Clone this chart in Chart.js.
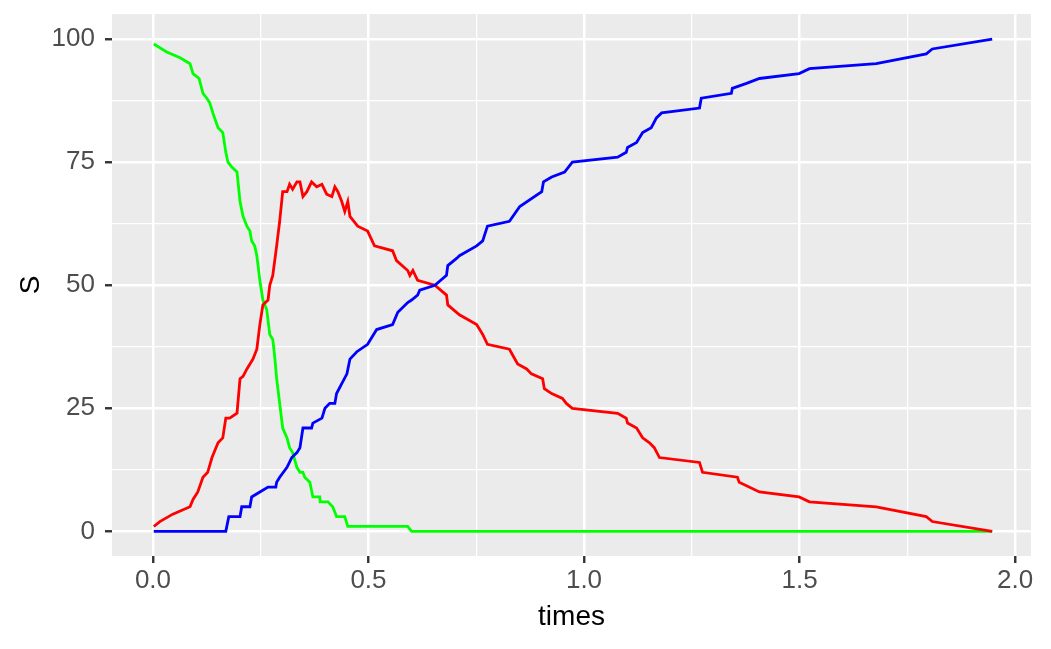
<!DOCTYPE html>
<html>
<head>
<meta charset="utf-8">
<script src="https://cdn.jsdelivr.net/npm/chart.js@4/dist/chart.umd.min.js"></script>
<style>
  html, body { margin: 0; padding: 0; background: #fff; }
  #wrap { width: 1051px; height: 649px; }
</style>
</head>
<body>
<div id="wrap"><canvas id="mycanvas"></canvas></div>
<script>
// S (susceptible) - green
var sTimes  = [0.002, 0.032, 0.063, 0.086, 0.093, 0.107, 0.116, 0.125, 0.132, 0.139, 0.151, 0.162, 0.169, 0.174, 0.183, 0.195,
               0.202, 0.209, 0.218, 0.225, 0.229, 0.236, 0.241, 0.248, 0.255, 0.264, 0.271, 0.278, 0.283, 0.287,
               0.294, 0.301, 0.311, 0.317, 0.324, 0.334, 0.341, 0.348, 0.352, 0.364, 0.371, 0.387, 0.388, 0.406,
               0.417, 0.426, 0.445, 0.452, 0.591, 0.600, 1.947];
var sValues = [99, 97.4, 96.2, 95, 93, 92, 89, 88, 87, 85, 82, 81, 77, 75, 74, 73,
               67, 64, 62, 61, 59, 58, 56, 51, 47, 45, 40, 39, 35, 31,
               26, 21, 19, 17, 16, 13, 12, 12, 11, 10, 7, 7, 6, 6,
               5, 3, 3, 1, 1, 0, 0];

// I (infected) - red
var iTimes  = [0.002, 0.016, 0.046, 0.086, 0.093, 0.104, 0.116, 0.127, 0.137, 0.151, 0.162, 0.169, 0.178, 0.195,
               0.202, 0.209, 0.218, 0.225, 0.232, 0.241, 0.248, 0.255, 0.267, 0.271, 0.278, 0.287, 0.294, 0.301,
               0.311, 0.317, 0.324, 0.334, 0.341, 0.348, 0.357, 0.368, 0.380, 0.392, 0.403, 0.415, 0.422, 0.429,
               0.438, 0.445, 0.452, 0.457, 0.475, 0.498, 0.514, 0.556, 0.565, 0.591, 0.596, 0.603, 0.614, 0.654,
               0.681, 0.684, 0.711, 0.751, 0.765, 0.776, 0.827, 0.846, 0.867, 0.878, 0.904, 0.908, 0.925, 0.950,
               0.959, 0.973, 1.078, 1.098, 1.101, 1.122, 1.136, 1.152, 1.163, 1.175, 1.268, 1.275, 1.356, 1.360,
               1.407, 1.499, 1.523, 1.678, 1.794, 1.808, 1.947];
var iValues = [1, 2, 3.5, 5, 6.5, 8, 11, 12, 15, 18, 19, 23, 23, 24,
               31, 31.5, 33, 34, 35, 37, 42, 46, 47, 50, 52, 58, 63, 69,
               69, 70.5, 69.5, 71, 71, 68, 69, 71, 70, 70.5, 68.5, 68, 70, 69,
               67, 65, 67, 64, 62, 61, 58, 57, 55, 53, 52, 53, 51, 50,
               48, 46, 44, 42, 40, 38, 37, 34, 33, 32, 31, 29, 28, 27,
               26, 25, 24, 23, 22, 21, 19, 18, 17, 15, 14, 12, 11, 10,
               8, 7, 6, 5, 3, 2, 0];

// R (recovered) - blue
var rTimes  = [0.002, 0.169, 0.176, 0.202, 0.206, 0.225, 0.229, 0.248, 0.267, 0.285, 0.287, 0.294, 0.311, 0.322,
               0.334, 0.341, 0.348, 0.368, 0.371, 0.392, 0.399, 0.410, 0.422, 0.426, 0.438, 0.450, 0.457, 0.473,
               0.498, 0.519, 0.556, 0.568, 0.591, 0.600, 0.614, 0.619, 0.654, 0.681, 0.684, 0.705, 0.711, 0.751,
               0.765, 0.776, 0.827, 0.851, 0.902, 0.906, 0.925, 0.955, 0.973, 1.078, 1.098, 1.101, 1.122, 1.136,
               1.156, 1.168, 1.180, 1.268, 1.272, 1.342, 1.344, 1.377, 1.407, 1.499, 1.523, 1.678, 1.794, 1.808,
               1.947];
var rValues = [0, 0, 3, 3, 5, 5, 7, 8, 9, 9, 10, 11, 13, 15,
               16, 17, 21, 21, 22, 23, 25, 26, 26, 28, 30, 32, 35, 36.5,
               38, 41, 42, 44.5, 46.5, 47, 48, 49, 50, 52, 54, 55.5, 56, 58,
               59, 62, 63, 66, 69, 71, 72, 73, 75, 76, 77, 78, 79, 81,
               82, 84, 85, 86, 88, 89, 90, 91, 92, 93, 94, 95, 97, 98,
               100];

var xMajorTicks = [0, 0.5, 1, 1.5, 2];
var xMinorTicks = [0.25, 0.75, 1.25, 1.75];
var yMajorTicks = [0, 25, 50, 75, 100];
var yMinorTicks = [12.5, 37.5, 62.5, 87.5];

function toPoints(xs, ys) {
  var pts = [];
  for (var i in xs) {
    pts.push({x: xs[i], y: ys[i]});
  }
  return pts;
}

function setTicks(major, minor) {
  return function(scale) {
    scale.ticks = major.concat(minor).sort(function(a, b) { return a - b; })
      .map(function(v) { return {value: v}; });
  };
}

var panelBg = {
  id: 'panelBg',
  beforeDraw: function(chart) {
    var a = chart.chartArea;
    var c = chart.ctx;
    c.save();
    c.fillStyle = '#EBEBEB';
    c.fillRect(a.left, a.top, a.right - a.left, a.bottom - a.top);
    c.restore();
  }
};

var font = 'Liberation Sans, Arial, Helvetica, sans-serif';

var chartdata = {
  datasets: [
    { label: 'R', data: toPoints(rTimes, rValues), borderColor: '#0000FF' },
    { label: 'I', data: toPoints(iTimes, iValues), borderColor: '#FF0000' },
    { label: 'S', data: toPoints(sTimes, sValues), borderColor: '#00FF00' }
  ]
};
chartdata.datasets.forEach(function(d) {
  d.borderWidth = 2.8;
  d.pointRadius = 0;
  d.tension = 0;
  d.fill = false;
});

var ctx = document.getElementById('mycanvas');
var chart = new Chart(ctx, {
  type: 'line',
  data: chartdata,
  plugins: [panelBg],
  options: {
    responsive: true,
    maintainAspectRatio: false,
    devicePixelRatio: 1,
    animation: false,
    layout: { padding: { top: 14, right: 20, left: 0, bottom: 0 } },
    plugins: { legend: { display: false }, tooltip: { enabled: false } },
    scales: {
      x: {
        type: 'linear',
        min: -0.095,
        max: 2.037,
        afterBuildTicks: setTicks(xMajorTicks, xMinorTicks),
        afterFit: function(scale) {
          scale.height = 93;
          scale.paddingLeft = 0;
          scale.paddingRight = 0;
        },
        border: { display: false },
        grid: {
          color: '#FFFFFF',
          lineWidth: function(c) { return xMajorTicks.indexOf(c.tick.value) >= 0 ? 2.5 : 1.2; },
          tickColor: function(c) { return xMajorTicks.indexOf(c.tick.value) >= 0 ? '#333333' : 'rgba(0,0,0,0)'; },
          tickWidth: 2.4,
          tickLength: 7
        },
        ticks: {
          autoSkip: false,
          maxRotation: 0,
          padding: 5,
          color: '#4D4D4D',
          font: { family: font, size: 26, lineHeight: 1 },
          callback: function(v) { return xMajorTicks.indexOf(v) >= 0 ? v.toFixed(1) : ''; }
        },
        title: {
          display: true,
          text: 'times',
          color: '#000000',
          font: { family: font, size: 28, lineHeight: 1 },
          padding: { top: 0, bottom: 18 }
        }
      },
      y: {
        type: 'linear',
        min: -5,
        max: 105.1,
        afterBuildTicks: setTicks(yMajorTicks, yMinorTicks),
        afterFit: function(scale) {
          scale.width = 112;
          scale.paddingTop = 0;
          scale.paddingBottom = 0;
        },
        border: { display: false },
        grid: {
          color: '#FFFFFF',
          lineWidth: function(c) { return yMajorTicks.indexOf(c.tick.value) >= 0 ? 2.5 : 1.2; },
          tickColor: function(c) { return yMajorTicks.indexOf(c.tick.value) >= 0 ? '#333333' : 'rgba(0,0,0,0)'; },
          tickWidth: 2.4,
          tickLength: 7
        },
        ticks: {
          autoSkip: false,
          padding: 10,
          color: '#4D4D4D',
          font: { family: font, size: 26, lineHeight: 1 },
          callback: function(v) { return yMajorTicks.indexOf(v) >= 0 ? String(v) : ''; }
        },
        title: {
          display: true,
          text: 'S',
          color: '#000000',
          font: { family: font, size: 28, lineHeight: 1 },
          padding: { top: 17, bottom: 0 }
        }
      }
    }
  }
});
</script>
</body>
</html>
